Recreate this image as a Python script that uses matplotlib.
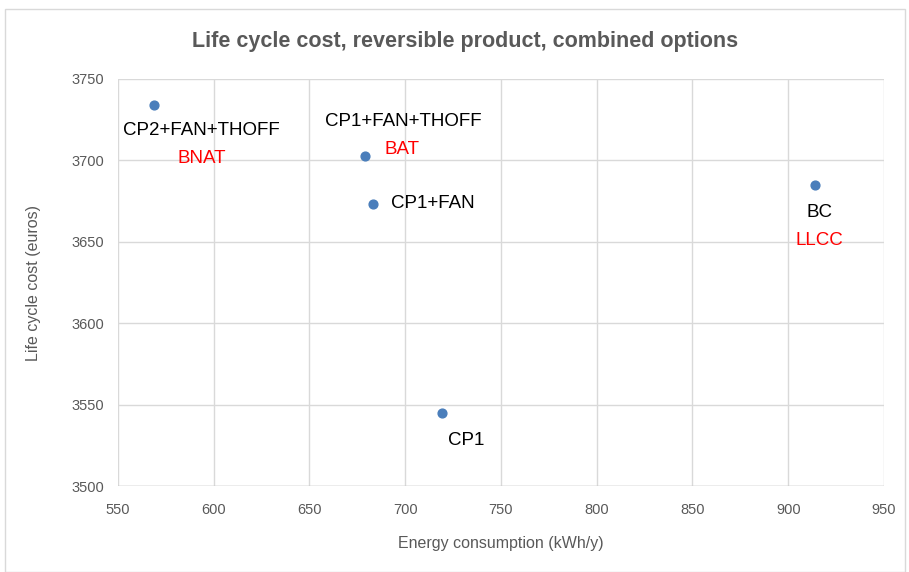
import matplotlib.pyplot as plt

energy = [569, 679, 683, 719, 914]
lcc = [3734, 3703, 3673, 3545, 3685]
names = ["CP2+FAN+THOFF", "CP1+FAN+THOFF", "CP1+FAN", "CP1", "BC"]
tags = ["BNAT", "BAT", "", "", "LLCC"]

# label offsets in pixels (name, tag) and alignment
name_off = [(47, -25), (38, 34), (18, 1), (25, -28), (4, -28)]
tag_off = [(47, -53), (37, 6), (0, 0), (0, 0), (4, -56)]
name_ha = ["center", "center", "left", "center", "center"]

plt.rcParams["font.family"] = ["Liberation Sans", "DejaVu Sans"]

fig = plt.figure(figsize=(9.09, 5.72), dpi=100)
ax = fig.add_axes([0.1298, 0.1503, 0.8427, 0.7116])

ax.scatter(energy, lcc, s=40, color="#4a7ebb", zorder=3)

for i in range(len(energy)):
    ax.annotate(names[i], (energy[i], lcc[i]), xytext=name_off[i],
                textcoords="offset pixels", ha=name_ha[i], va="center",
                fontsize=13.5, color="black")
    if tags[i]:
        ax.annotate(tags[i], (energy[i], lcc[i]), xytext=tag_off[i],
                    textcoords="offset pixels", ha="center", va="center",
                    fontsize=13.5, color="red")

ax.set_xlim(550, 950)
ax.set_ylim(3500, 3750)
ax.set_xticks(range(550, 951, 50))
ax.set_yticks(range(3500, 3751, 50))
ax.grid(True, color="#d9d9d9", linewidth=1)
ax.set_axisbelow(True)
for s in ax.spines.values():
    s.set_visible(False)
ax.axhline(3500, color="#bfbfbf", linewidth=1)
ax.tick_params(length=0, labelsize=10.5, colors="#595959")
ax.tick_params(axis="x", pad=12)
ax.tick_params(axis="y", pad=10)

ax.set_xlabel("Energy consumption (kWh/y)", fontsize=11.5, color="#595959", labelpad=14)
ax.set_ylabel("Life cycle cost (euros)", fontsize=11.5, color="#595959", labelpad=22)
fig.text(0.512, 0.928, "Life cycle cost, reversible product, combined options",
         ha="center", va="center", fontsize=15.5, fontweight="bold", color="#595959")

fig.patches.append(plt.Rectangle((0.006, 0.0), 0.99, 0.985, transform=fig.transFigure,
                                 fill=False, edgecolor="#d9d9d9", linewidth=1))

fig.savefig("out.png", dpi=100)
